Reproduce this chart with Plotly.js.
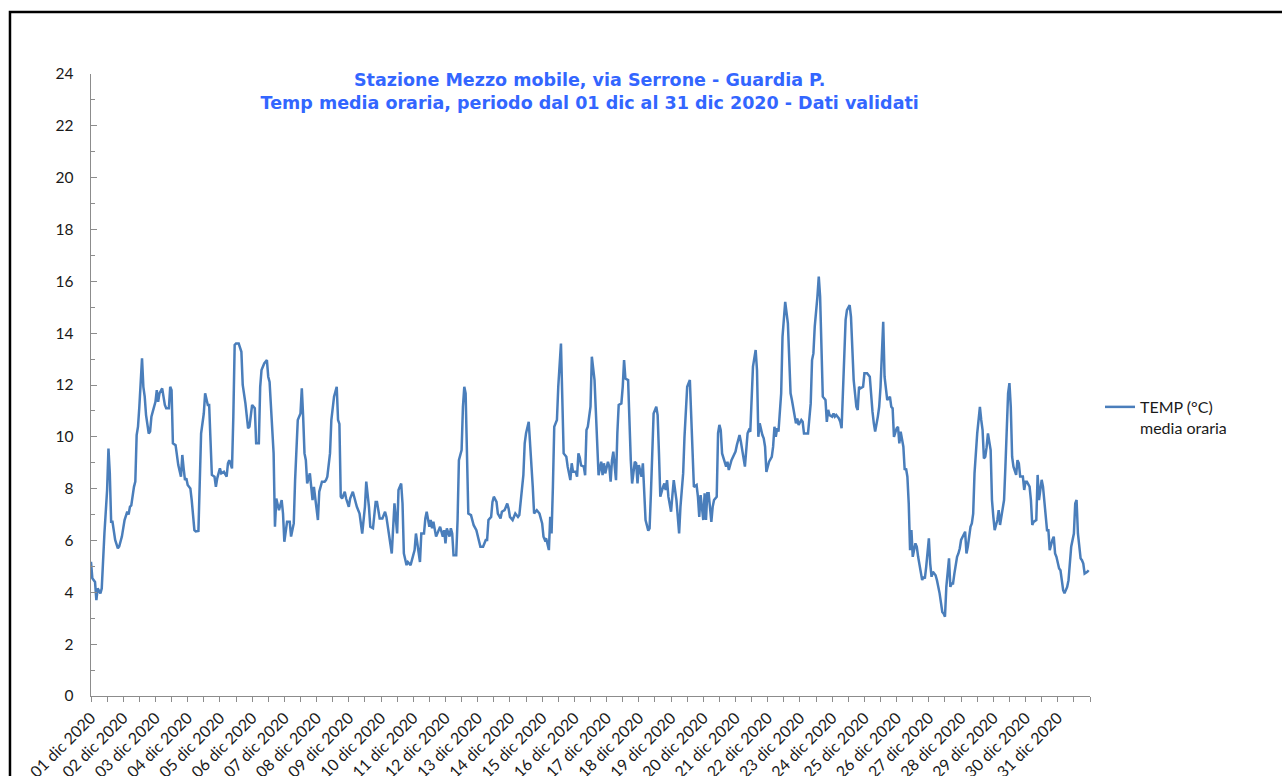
<!DOCTYPE html>
<html>
<head>
<meta charset="utf-8">
<script src="https://cdn.plot.ly/plotly-3.0.1.min.js"></script>
<style>
  html, body { margin: 0; padding: 0; background: #ffffff; }
  #chart { width: 1282px; height: 776px; }
</style>
</head>
<body>
<div id="chart"></div>
<script>
// Hours elapsed since 01 dic 2020 00:00 (sampled readings)
const hours = [
  0,1,3,4,5,7,8,9,10,12,13,14,15,16,18,20,21,23,25,27,28,29,30,32,33,34,35,36,38,39,40,41,43,44,45,46,48,49,50,51,53,55,56,58,59,60,61,63,64,65,67,68,69,70,71,72,74,75,77,78,80,81,82,84,85,87,88,89,90,92,93,94,96,97,99,101,102,103,105,106,107,108,110,112,113,115,117,
  118,120,122,123,125,126,127,129,131,132,133,134,136,137,138,140,142,143,144,146,148,149,151,152,153,154,156,157,158,159,160,161,163,164,165,166,168,169,170,172,174,175,176,178,179,181,182,183,184,185,186,187,189,190,192,193,195,196,198,200,202,204,205,207,208,210,212,213,215,217,219,220,222,224,226,228,229,231,232,233,235,236,238,240,
  241,242,244,245,246,248,249,250,252,253,254,255,257,259,260,262,263,264,265,267,268,269,270,272,273,274,276,277,278,279,280,281,283,285,287,288,290,292,294,295,296,298,299,300,302,303,305,306,308,310,311,312,314,316,318,319,321,322,323,324,326,327,329,330,332,334,336,337,338,339,341,342,343,344,345,347,348,350,351,352,354,355,357,358,359,361,362,363,
  364,365,367,368,369,370,372,373,375,376,377,378,380,381,382,383,385,386,387,388,389,391,392,393,395,396,397,398,400,401,402,403,405,406,407,408,410,411,412,413,415,416,417,418,419,421,422,423,424,426,427,428,429,430,432,433,434,436,437,438,439,441,442,443,444,446,447,448,449,451,452,453,454,456,457,458,459,460,462,463,464,466,467,468,469,470,472,473,474,475,477,478,480,481,483,484,485,486,487,489,490,
  491,492,493,495,496,497,498,500,501,502,503,505,507,508,509,510,511,512,514,515,516,517,519,520,521,522,524,525,526,527,529,530,531,532,534,536,537,538,539,541,542,543,544,545,547,548,549,550,552,553,554,555,557,558,559,560,561,562,563,565,566,567,568,570,571,572,573,575,576,577,578,580,581,582,583,584,586,587,588,589,590,591,592,593,595,596,597,598,600,601,602,603,605,606,607,608,609,
  610,611,612,614,615,616,617,619,620,621,622,624,625,626,627,629,630,631,632,634,635,636,637,639,640,641,642,643,645,646,647,648,650,651,652,653,655,656,657,658,660,661,662,663,664,665,666,667,668,670,671,672,673,675,676,677,678,680,681,682,683,684,685,686,687,689,690,691,692,694,695,696,697,699,700,701,702,704,705,706,707,708,709,710,712,713,714,716,717,718,719,721,722,723,724,725,727,728,729,730,732,733,734,735,737,738,739,740,742,743
];

// TEMP (°C) media oraria
const temps = [
  5.18,4.54,4.4,3.7,4.15,3.96,4.15,5.5,6.28,7.95,9.55,8.6,6.72,6.72,6.02,5.7,5.77,6.15,6.79,7.11,7.0,7.3,7.35,8.07,8.27,10.07,10.39,11.16,13.03,11.93,11.55,10.84,10.13,10.2,10.78,10.97,11.35,11.8,11.35,11.68,11.87,11.23,11.1,11.1,11.93,11.8,9.75,9.68,9.3,8.91,8.46,9.3,8.78,8.33,8.4,8.14,8.01,7.56,6.4,6.35,6.37,8.33,10.13,10.9,11.68,11.23,11.23,9.88,8.53,8.46,8.07,8.4,8.78,8.59,8.65,8.46,8.98,9.1,8.78,10.78,13.54,13.6,13.6,13.28,12.0,11.29,10.33,
  10.39,11.23,11.1,9.75,9.75,11.93,12.58,12.83,12.96,12.32,12.12,11.03,9.36,6.53,7.62,7.17,7.56,7.04,5.95,6.72,6.72,6.15,6.66,8.33,9.75,10.65,10.9,11.87,10.78,9.36,9.1,8.2,8.59,8.07,7.56,8.07,7.3,6.79,7.88,8.27,8.27,8.33,8.46,9.36,10.65,11.55,11.74,11.93,10.65,10.5,7.69,7.62,7.88,7.62,7.3,7.62,7.88,7.69,7.3,7.04,6.27,7.3,8.27,7.3,6.53,6.47,7.49,7.49,6.85,6.85,7.11,6.91,6.21,5.5,7.43,6.27,7.95,8.2,7.43,5.5,5.05,5.17,5.05,5.5,
  5.63,6.27,5.5,5.17,6.27,6.27,6.85,7.11,6.53,6.79,6.47,6.72,6.15,6.4,6.53,6.15,6.4,5.89,6.47,6.15,6.47,6.27,5.43,5.43,6.79,9.1,9.49,11.16,11.93,11.68,9.62,7.04,6.98,6.59,6.4,6.21,5.76,5.76,6.02,6.02,6.79,6.91,7.49,7.69,7.49,7.04,6.85,7.11,7.17,7.43,7.23,6.91,6.79,7.04,6.91,6.98,7.88,8.52,9.75,10.14,10.58,9.8,8.07,7.04,7.17,7.04,6.66,6.15,6.02,6.08,5.63,6.91,6.27,8.07,10.39,10.65,11.93,13.6,11.93,9.36,9.23,8.85,8.33,8.98,8.65,8.65,8.46,9.36,
  9.2,8.9,8.85,8.52,10.26,10.39,11.16,13.09,12.19,10.9,9.1,8.52,9.04,8.52,8.98,8.59,9.04,8.85,8.27,9.1,9.43,8.33,10.14,11.23,11.29,11.93,12.96,12.25,12.19,10.26,9.1,8.2,9.04,8.98,8.2,8.91,8.46,8.98,7.69,6.79,6.38,6.47,7.82,9.36,10.9,11.16,10.84,9.36,7.69,8.07,8.2,7.95,8.33,7.69,7.11,7.75,8.33,7.56,6.79,6.27,7.3,8.59,10.0,11.29,11.93,12.19,10.65,8.98,8.07,8.14,7.69,6.91,7.75,6.79,7.82,6.79,7.82,7.82,6.72,7.3,7.56,7.69,10.14,10.46,10.26,9.36,8.98,8.85,9.04,8.72,9.1,9.23,9.43,9.68,10.07,9.81,9.43,9.1,8.85,10.14,10.26,
  10.2,11.68,12.71,13.35,12.58,10.0,10.52,10.07,9.94,9.62,8.65,9.04,9.23,9.62,10.39,10.0,10.33,10.2,11.68,13.86,14.76,15.21,14.38,13.22,11.68,11.42,10.9,10.52,10.71,10.46,10.65,10.58,10.13,10.13,10.13,11.29,12.96,13.22,14.25,15.41,16.18,15.41,13.48,11.55,11.42,10.58,11.04,10.84,10.78,10.9,10.78,10.84,10.71,10.58,10.33,11.68,13.73,14.51,14.89,15.08,14.63,13.35,12.19,11.16,11.04,11.93,11.87,11.93,12.45,12.45,12.45,12.32,11.42,10.97,10.52,10.2,10.78,11.16,11.93,13.22,14.44,12.32,11.93,11.42,11.55,11.16,11.1,10.0,10.33,10.39,9.75,10.2,9.62,8.72,8.78,8.46,7.43,
  5.63,6.4,5.37,5.89,5.76,5.37,5.11,4.47,4.6,4.53,4.98,6.08,5.11,4.6,4.79,4.66,4.47,4.21,3.96,3.24,3.18,3.06,4.21,5.31,4.21,4.34,4.34,4.72,5.37,5.5,5.69,6.02,6.27,6.34,5.5,5.76,6.53,6.66,7.04,8.59,10.13,10.78,11.16,10.65,10.26,9.17,9.23,9.6,10.13,9.49,7.56,6.92,6.4,6.79,7.17,6.6,6.92,7.56,8.85,10.13,11.68,12.07,11.16,9.23,8.85,8.53,9.1,8.98,8.47,8.47,7.95,8.27,8.27,8.08,7.56,6.6,6.72,6.79,8.53,7.56,8.08,8.34,8.08,7.56,6.4,6.4,5.63,6.02,6.15,5.5,5.37,4.92,4.85,4.47,4.08,3.96,4.21,4.47,5.11,5.76,6.27,7.43,7.56,6.27,5.31,5.24,5.11,4.72,4.79,4.85
];

// Day tick positions (hours) and labels
const dayTickHours = [0,24,48,72,96,120,144,168,192,216,240,264,288,312,336,360,384,408,432,456,480,504,528,552,576,600,624,648,672,696,720];
const dayTickLabels = [
  "01 dic 2020","02 dic 2020","03 dic 2020","04 dic 2020","05 dic 2020","06 dic 2020","07 dic 2020","08 dic 2020",
  "09 dic 2020","10 dic 2020","11 dic 2020","12 dic 2020","13 dic 2020","14 dic 2020","15 dic 2020","16 dic 2020",
  "17 dic 2020","18 dic 2020","19 dic 2020","20 dic 2020","21 dic 2020","22 dic 2020","23 dic 2020","24 dic 2020",
  "25 dic 2020","26 dic 2020","27 dic 2020","28 dic 2020","29 dic 2020","30 dic 2020","31 dic 2020"
];

const seriesName = "TEMP (°C)<br>media oraria";
const titleText = "Stazione Mezzo mobile, via Serrone - Guardia P.<br>Temp media oraria, periodo dal 01 dic al 31 dic 2020 - Dati validati";

const trace = {
  x: hours,
  y: temps,
  type: "scatter",
  mode: "lines",
  name: seriesName,
  line: { color: "#4A7EBB", width: 2.5 },
  hoverinfo: "x+y"
};

const fontFam = "Lato, 'Open Sans', sans-serif";

const layout = {
  width: 1282,
  height: 776,
  paper_bgcolor: "#ffffff",
  plot_bgcolor: "#ffffff",
  margin: { l: 91, r: 192, t: 74, b: 80, pad: 0 },
  title: {
    text: titleText,
    x: 0.4992, xanchor: "center",
    xref: "paper",
    y: 1 - 86 / 776, yanchor: "top", yref: "container",
    font: { family: "'DejaVu Sans', sans-serif", size: 17.5, color: "#3366FF", weight: "bold" }
  },
  showlegend: true,
  legend: {
    x: 1.01, xanchor: "left",
    y: 0.492, yanchor: "top",
    bgcolor: "rgba(0,0,0,0)",
    font: { family: fontFam, size: 16, color: "#1a1a1a" },
    valign: "top",
    itemwidth: 30
  },
  xaxis: {
    range: [0, 744],
    tickmode: "array",
    tickvals: dayTickHours,
    ticktext: dayTickLabels,
    tickangle: -45,
    ticks: "outside",
    ticklen: 5,
    tickcolor: "#8c8c8c",
    tickwidth: 1,
    showline: true,
    linecolor: "#8c8c8c",
    linewidth: 1.3,
    showgrid: false,
    zeroline: false,
    tickfont: { family: fontFam, size: 16, color: "#1a1a1a" },
    minor: { dtick: 12, tick0: 0, ticks: "outside", ticklen: 5, tickcolor: "#8c8c8c", showgrid: false },
    fixedrange: true
  },
  yaxis: {
    range: [0, 24],
    dtick: 2,
    tick0: 0,
    ticks: "inside",
    ticklen: 6,
    tickcolor: "#8c8c8c",
    showline: true,
    linecolor: "#8c8c8c",
    linewidth: 1.3,
    showgrid: false,
    zeroline: false,
    tickfont: { family: fontFam, size: 15.5, color: "#1a1a1a" },
    ticklabelstandoff: 13,
    minor: { dtick: 1, ticks: "inside", ticklen: 4, tickcolor: "#8c8c8c", showgrid: false },
    fixedrange: true
  },
  shapes: [
    {
      type: "rect", xref: "paper", yref: "paper",
      x0: -0.0811, x1: 1.35, y0: -0.3, y1: 1.0997,
      line: { color: "#000000", width: 2.5 },
      fillcolor: "rgba(0,0,0,0)",
      layer: "below"
    }
  ]
};

Plotly.newPlot("chart", [trace], layout, { displayModeBar: false, staticPlot: true });
</script>
</body>
</html>
